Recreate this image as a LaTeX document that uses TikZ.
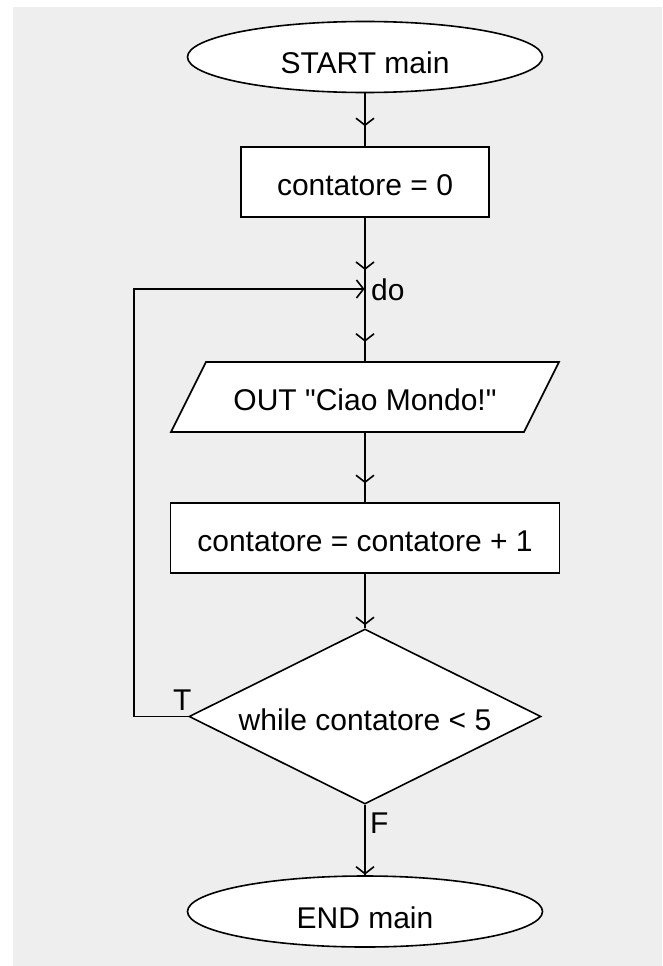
\documentclass[tikz,border=0pt]{standalone}
\usepackage{fontspec}
\setmainfont{Liberation Sans}[Ligatures=TeXOff]
\usetikzlibrary{shapes.geometric,arrows.meta,decorations.markings}

\definecolor{canvas}{HTML}{EEEEEE}

\tikzset{
  barbtip/.tip={Straight Barb[length=7pt,width=18pt]},
  shapeline/.style={draw=black, line width=1.6pt, fill=white},
  termbox/.style={shapeline, ellipse, minimum width=355pt, minimum height=71pt,
    inner sep=0pt, text height=34pt, text depth=0pt},
  procbox/.style={shapeline, rectangle, inner sep=0pt, minimum height=70pt,
    text height=26pt, text depth=0pt},
  textonly/.style={rectangle, inner sep=0pt, minimum height=70pt,
    text height=26pt, text depth=0pt},
  decbox/.style={shapeline, diamond, aspect=2.01, inner sep=0pt,
    minimum width=352pt, minimum height=175pt, text height=28pt, text depth=0pt},
  flowline/.style={draw=black, line width=1.6pt},
  tipat/.style={postaction={decorate}, decoration={markings,
    mark=at position #1 with {\arrow{barbtip}}}},
  lbl/.style={inner sep=0pt, anchor=base west},
}

\begin{document}
\begin{tikzpicture}[x=1pt, y=-1pt, font=\fontsize{30}{36}\selectfont]
  % page and canvas
  \useasboundingbox (0,0) rectangle (662,966);
  \fill[white] (0,0) rectangle (662,966);
  \fill[canvas] (13,7) rectangle (662,966);

  % flowchart blocks
  \node[termbox] (start) at (365,57) {START main};
  \node[procbox, minimum width=248pt] (init) at (365,182) {contatore = 0};
  \coordinate (do) at (365,289);

  % output block: parallelogram outline under a text node
  \draw[shapeline] (206,362) -- (559,362) -- (524,432) -- (171,432) -- cycle;
  \node[textonly, minimum width=353pt] (out) at (365,397)
    {OUT "Ciao Mondo!"};

  \node[procbox, minimum width=389pt] (incr) at (365,538) {contatore = contatore + 1};
  \node[decbox] (cond) at (365,716.5) {while contatore < 5};
  \node[termbox] (stop) at (365,911.5) {END main};

  \coordinate (loopx) at (134,0);

  % connectors
  \draw[flowline, tipat=-20pt] (start) -- (init);
  \draw[flowline, tipat=-19pt] (init) -- (do);
  \draw[flowline, tipat=-20pt] (do) -- (out.north);
  \draw[flowline, tipat=-19pt] (out.south) -- (incr);
  \draw[flowline, tipat=-3pt] (incr) -- (cond.north);
  \draw[flowline, tipat=-0.5pt] (cond.south) -- (stop.north);
  \draw[flowline, tipat=-0.5pt] (cond.west) -- (cond.west -| loopx) |- (do);

  % labels
  \node[lbl] (dolbl) at (371,300) {do};
  \node[lbl] (tlbl) at (173,710) {T};
  \node[lbl] (flbl) at (370,833) {F};
\end{tikzpicture}
\end{document}
